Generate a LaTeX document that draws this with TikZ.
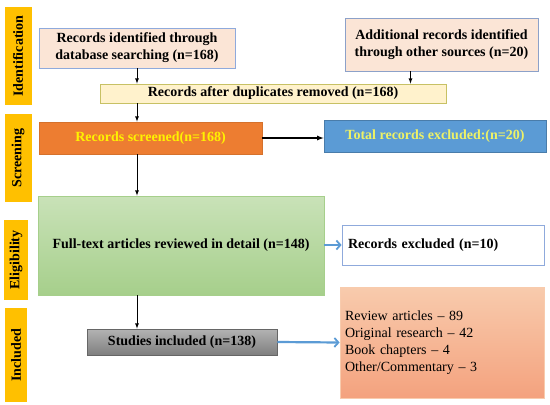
\documentclass[tikz,border=0pt]{standalone}
\usepackage{fontspec}
\setmainfont{Liberation Serif}
\usetikzlibrary{positioning,arrows.meta,arrows}
\definecolor{stagegold}{HTML}{FFC000}
\definecolor{pinkfill}{HTML}{FBE5D6}
\definecolor{creamfill}{HTML}{FFF2CC}
\definecolor{orangefill}{HTML}{ED7D31}
\definecolor{bluefill}{HTML}{5B9BD5}
\definecolor{arrowblue}{HTML}{5B9BD5}
\definecolor{lineblue}{HTML}{8FAADC}
\definecolor{greentop}{HTML}{C9E2B8}
\definecolor{greenbot}{HTML}{A6CF8B}
\definecolor{salmontop}{HTML}{F8CBAD}
\definecolor{salmonbot}{HTML}{F4A27E}
\definecolor{limetext}{HTML}{EEF266}
\tikzset{
stage/.style={
  fill=stagegold,
  rotate=90,
  inner sep=0pt,
  font=\bfseries
  },
box/.style={
  draw=#1,
  inner sep=0pt,
  align=center,
  font=\bfseries
  },
bluearrow/.style={
  -{Straight Barb[length=4pt,width=9pt,line width=1.8pt]},
  arrowblue,
  line width=2.2pt
  }
}
\begin{document}
\begin{tikzpicture}[>=latex,x=1pt,y=1pt,line width=0.8pt]
\useasboundingbox (0,0) rectangle (550,-405);
\fontsize{14}{17}\selectfont

\node[stage,minimum width=98pt,minimum height=27pt] (st1) at (18,-56) {Identification};
\node[stage,minimum width=88pt,minimum height=27pt] (st2) at (18,-158) {Screening};
\node[stage,minimum width=80pt,minimum height=24pt] (st3) at (16,-260) {Eligibility};
\node[stage,minimum width=94pt,minimum height=22pt] (st4) at (16,-355) {Included};

\node[box=lineblue,fill=pinkfill,minimum width=196pt,minimum height=40pt] (idrec) at (137,-48)
  {Records identified through\\database searching (n=168)};
\node[box=lineblue!80!gray,fill=pinkfill,minimum width=193pt,minimum height=53pt] (addrec) at (441.5,-44.5)
  {Additional records identified\\through other sources (n=20)};
\node[box=olive!50,fill=creamfill,minimum width=346pt,minimum height=19pt] (dup) at (273,-93.5)
  {Records after duplicates removed (n=168)};

\node[box=orangefill!90!black,fill=orangefill,text=yellow,minimum width=223pt,minimum height=32pt] (scr) at (150.5,-138)
  {Records screened(n=168)};
\node[box=bluefill!80!black,fill=bluefill,text=limetext,minimum width=222pt,minimum height=32pt] (excl1) at (435,-136)
  {Total records excluded:(n=20)};

\node[box=greenbot,top color=greentop,bottom color=greenbot,minimum width=286pt,minimum height=99pt] (full) at (181,-245.5)
  {Full-text articles reviewed in detail (n=148)};
\node[box=lineblue,fill=white,minimum width=202pt,minimum height=40pt,text width=190pt,align=left] (excl2) at (443,-245)
  {Records excluded (n=10)};

\node[box=black!60,top color=black!30,bottom color=black!50,minimum width=190pt,minimum height=26pt] (incl) at (182,-342)
  {Studies included (n=138)};
\node[box=salmontop,top color=salmontop,bottom color=salmonbot,minimum width=204pt,minimum height=111pt,text width=194pt,align=left,font=\normalfont] (types) at (442,-342.5)
  {Review articles -- 89\\Original research -- 42\\Book chapters -- 4\\Other/Commentary -- 3};

\draw[->] (idrec.south) -- (idrec.south |- dup.north);
\draw[->] ([xshift=-31pt]addrec.south) -- ([xshift=-31pt]addrec.south |- dup.north);
\draw[->] (idrec.south |- dup.south) -- (idrec.south |- scr.north);
\draw[->,line width=1.2pt] (scr.east) -- (scr.east -| excl1.west);
\draw[->] (idrec.south |- scr.south) -- (idrec.south |- full.north);
\draw[->] (idrec.south |- full.south) -- (idrec.south |- incl.north);

\draw[bluearrow] (full.east |- excl2.west) -- (excl2.west);
\draw[bluearrow] (incl.east) -- (types.west);
\end{tikzpicture}
\end{document}
